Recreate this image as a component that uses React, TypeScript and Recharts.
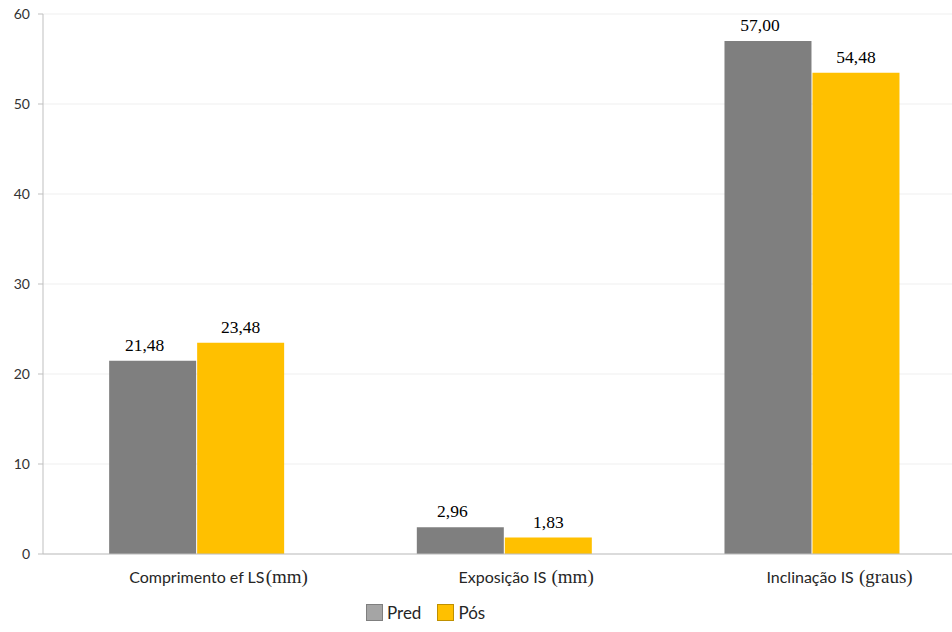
import { BarChart, Bar, XAxis, YAxis, CartesianGrid, Legend, LabelList } from 'recharts'

const categories = ['Comprimento ef LS', 'Exposição IS ', 'Inclinação IS ']
const units = ['(mm)', '(mm)', '(graus)']
const predValues = [21.48, 2.96, 57.0]
const posValues = [23.48, 1.83, 53.48]
const predLabels = ['21,48', '2,96', '57,00']
const posLabels = ['23,48', '1,83', '54,48']
const yTicks = [0, 10, 20, 30, 40, 50, 60]

const GRAY = '#7f7f7f'
const YELLOW = '#ffc000'
const SANS = 'Lato, "Liberation Sans", sans-serif'
const SERIF = '"Liberation Serif", "DejaVu Serif", serif'
const CAT_SIZE = 16

const data = categories.map((name, i) => ({
  name,
  pred: predValues[i],
  pos: posValues[i],
  predLabel: predLabels[i],
  posLabel: posLabels[i],
}))

let canvas: HTMLCanvasElement | null = null
function textWidth(s: string, font: string) {
  if (!canvas) canvas = document.createElement('canvas')
  const ctx = canvas.getContext('2d')!
  ctx.font = font
  return ctx.measureText(s).width
}

// sans part is centred on the category, unit in serif runs on after it
function CategoryTick({ x, y, payload, index }: any) {
  const w = textWidth(payload.value, `${CAT_SIZE}px Lato`)
  return (
    <g>
      <text
        x={x}
        y={y + 21}
        textAnchor="middle"
        fill="#262626"
        fontFamily={SANS}
        fontSize={CAT_SIZE}
        style={{ whiteSpace: 'pre' }}
      >
        {payload.value}
      </text>
      <text x={x + w / 2 + 1} y={y + 21} fill="#262626" fontFamily={SERIF} fontSize={19}>
        {units[index]}
      </text>
    </g>
  )
}

function ValueLabel({ x, y, width, value, dx = 0 }: any) {
  return (
    <text
      x={x + width / 2 + dx}
      y={y - 10}
      textAnchor="middle"
      fontFamily={SERIF}
      fontSize={17.5}
      fill="#000"
    >
      {value}
    </text>
  )
}

function LegendBox() {
  const item = (color: string, border: string, label: string) => (
    <span style={{ display: 'inline-flex', alignItems: 'center', marginRight: 16 }}>
      <span
        style={{
          display: 'inline-block',
          width: 15,
          height: 15,
          background: color,
          border: `1px solid ${border}`,
          marginRight: 4,
        }}
      />
      <span style={{ fontFamily: SANS, fontSize: 17, color: '#262626' }}>{label}</span>
    </span>
  )
  return (
    <div style={{ height: 24, display: 'flex', alignItems: 'center', paddingLeft: 366 }}>
      {item('#a5a5a5', '#7f7f7f', 'Pred')}
      {item(YELLOW, '#bf9000', 'Pós')}
    </div>
  )
}

export default function App() {
  return (
    <div
      style={{
        position: 'fixed',
        left: 0,
        top: 0,
        width: 952,
        height: 632,
        overflow: 'hidden',
        background: '#fff',
      }}
    >
      <BarChart
        width={980}
        height={632}
        data={data}
        margin={{ top: 14, right: 14, bottom: 8, left: 0 }}
        barCategoryGap="21.5%"
        barGap={1}
      >
        <CartesianGrid vertical={false} stroke="#efefef" />
        <XAxis
          dataKey="name"
          height={46}
          stroke="#bfbfbf"
          tickLine={false}
          tick={<CategoryTick />}
          interval={0}
        />
        <YAxis
          width={43}
          domain={[0, 60]}
          ticks={yTicks}
          stroke="#bfbfbf"
          tickSize={5}
          tickMargin={8}
          tick={{ fill: '#333', fontFamily: SANS, fontSize: 14 }}
        />
        <Legend verticalAlign="bottom" content={<LegendBox />} />
        <Bar dataKey="pred" name="Pred" fill={GRAY} isAnimationActive={false}>
          <LabelList dataKey="predLabel" content={<ValueLabel dx={-8} />} />
        </Bar>
        <Bar dataKey="pos" name="Pós" fill={YELLOW} isAnimationActive={false}>
          <LabelList dataKey="posLabel" content={<ValueLabel />} />
        </Bar>
      </BarChart>
    </div>
  )
}
